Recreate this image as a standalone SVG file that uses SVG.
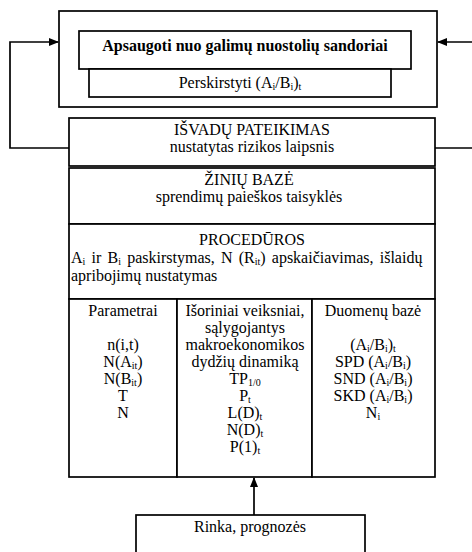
<svg xmlns="http://www.w3.org/2000/svg" width="472" height="552" viewBox="0 0 472 552">
<defs>
<style>
.box{fill:#fff;stroke:#000;stroke-width:1.7}
.ln{fill:none;stroke:#000;stroke-width:1.7}
.t text{font-family:'Liberation Serif','Times New Roman','DejaVu Serif',serif;font-size:16px;fill:#000;text-anchor:middle}
.t .b{font-weight:bold}
.t .l{text-anchor:start}
.s{font-size:10px}
</style>
<marker id="ah" markerWidth="10" markerHeight="8" refX="9" refY="4" orient="auto" markerUnits="userSpaceOnUse">
<path d="M0,0 L10,4 L0,8 Z" fill="#000"/>
</marker>
</defs>
<rect width="472" height="552" fill="#fff"/>

<g id="connectors">
<path class="ln" d="M69,148 H10 V42 H58" marker-end="url(#ah)"/>
<path class="ln" d="M472,42 H438" marker-end="url(#ah)"/>
<path class="ln" d="M435,148 H472"/>
<path class="ln" d="M254,515 V478" marker-end="url(#ah)"/>
</g>

<g class="t" font-family="Liberation Serif, serif">
<g id="outer-top">
<rect class="box" x="59" y="11" width="378" height="96"/>
</g>
<g id="apsaugoti">
<rect class="box" x="79" y="31" width="332" height="38"/>
<text class="b" x="245" y="51">Apsaugoti nuo galimų nuostolių sandoriai</text>
</g>
<g id="perskirstyti">
<rect class="box" x="89" y="69" width="302" height="28"/>
<text x="240" y="88">Perskirstyti (A<tspan class="s" dy="2">i</tspan><tspan dy="-2">/B</tspan><tspan class="s" dy="2">i</tspan><tspan dy="-2">)</tspan><tspan class="s" dy="2">t</tspan></text>
</g>

<g id="isvadu">
<rect class="box" x="69" y="118" width="366" height="48"/>
<text x="252" y="135">IŠVADŲ PATEIKIMAS</text>
<text x="252" y="152">nustatytas rizikos laipsnis</text>
</g>
<g id="ziniu">
<rect class="box" x="69" y="168" width="366" height="56"/>
<text x="249" y="185">ŽINIŲ BAZĖ</text>
<text x="249" y="202">sprendimų paieškos taisyklės</text>
</g>
<g id="proceduros">
<rect class="box" x="69" y="224" width="366" height="75"/>
<text x="252" y="245">PROCEDŪROS</text>
<text class="l" x="71" y="263" word-spacing="2.2">A<tspan class="s" dy="2">i</tspan><tspan dy="-2"> ir B</tspan><tspan class="s" dy="2">i</tspan><tspan dy="-2"> paskirstymas, N (R</tspan><tspan class="s" dy="2">it</tspan><tspan dy="-2">) apskaičiavimas, išlaidų</tspan></text>
<text class="l" x="71" y="281">apribojimų nustatymas</text>
</g>

<g id="parametrai">
<rect class="box" x="69" y="299" width="108" height="178"/>
<text x="123" y="316">Parametrai</text>
<text x="123" y="350">n(i,t)</text>
<text x="123" y="367">N(A<tspan class="s" dy="2">it</tspan><tspan dy="-2">)</tspan></text>
<text x="123" y="384">N(B<tspan class="s" dy="2">it</tspan><tspan dy="-2">)</tspan></text>
<text x="123" y="401">T</text>
<text x="123" y="418">N</text>
</g>
<g id="isoriniai">
<rect class="box" x="177" y="299" width="135" height="178"/>
<text x="245" y="316">Išoriniai veiksniai,</text>
<text x="245" y="333">sąlygojantys</text>
<text x="245" y="350">makroekonomikos</text>
<text x="245" y="367">dydžių dinamiką</text>
<text x="245" y="384">TP<tspan class="s" dy="2">1/0</tspan></text>
<text x="245" y="401">P<tspan class="s" dy="2">t</tspan></text>
<text x="245" y="418">L(D)<tspan class="s" dy="2">t</tspan></text>
<text x="245" y="435">N(D)<tspan class="s" dy="2">t</tspan></text>
<text x="245" y="452">P(1)<tspan class="s" dy="2">t</tspan></text>
</g>
<g id="duomenu">
<rect class="box" x="312" y="299" width="123" height="178"/>
<text x="373" y="316">Duomenų bazė</text>
<text x="373" y="350">(A<tspan class="s" dy="2">i</tspan><tspan dy="-2">/B</tspan><tspan class="s" dy="2">i</tspan><tspan dy="-2">)</tspan><tspan class="s" dy="2">t</tspan></text>
<text x="373" y="367">SPD (A<tspan class="s" dy="2">i</tspan><tspan dy="-2">/B</tspan><tspan class="s" dy="2">i</tspan><tspan dy="-2">)</tspan></text>
<text x="373" y="384">SND (A<tspan class="s" dy="2">i</tspan><tspan dy="-2">/B</tspan><tspan class="s" dy="2">i</tspan><tspan dy="-2">)</tspan></text>
<text x="373" y="401">SKD (A<tspan class="s" dy="2">i</tspan><tspan dy="-2">/B</tspan><tspan class="s" dy="2">i</tspan><tspan dy="-2">)</tspan></text>
<text x="373" y="418">N<tspan class="s" dy="2">i</tspan></text>
</g>

<g id="rinka">
<rect class="box" x="136" y="515" width="229" height="45"/>
<text x="250" y="532">Rinka, prognozės</text>
</g>
</g>
</svg>
